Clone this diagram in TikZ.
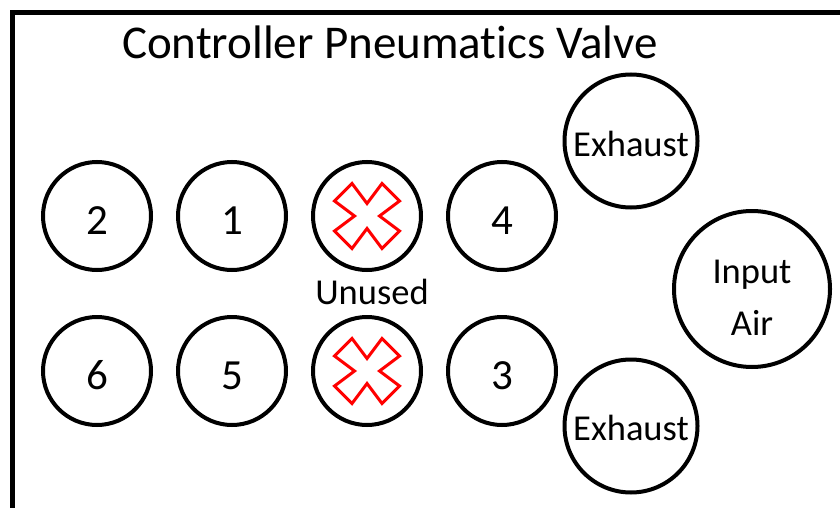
\documentclass[tikz,border=0pt]{standalone}
\usepackage{fontspec}
\setmainfont{Carlito}[Ligatures=NoCommon]
\tikzset{
  port/.style={circle, draw=black, line width=4pt, fill=white, inner sep=0pt, minimum size=#1},
  lbl/.style={anchor=base, inner sep=0pt, font=\fontsize{36.5}{40}\selectfont},
  digit/.style={anchor=base, inner sep=0pt, font=\fontsize{43}{48}\selectfont},
  frameline/.style={line width=5pt, line cap=rect},
  crossmark/.pic={
    \draw[red, line width=3pt, line join=miter]
      (-32.5,-15) -- (-15,-32.5) -- (0,-12.5) -- (15,-32.5) -- (32.5,-15) -- (12.5,0)
      -- (32.5,15) -- (15,32.5) -- (0,12.5) -- (-15,32.5) -- (-32.5,15) -- (-12.5,0) -- cycle;
  }
}
\begin{document}
\begin{tikzpicture}[x=1pt, y=-1pt]
\useasboundingbox (0,0) rectangle (840,508);
% housing outline
\coordinate (fbl) at (12,520);
\coordinate (ftl) at (12,12.5);
\coordinate (ftr) at (850,12.5);
\draw[frameline] (fbl) -- (ftl) -- (ftr);
% title
\node[anchor=base, inner sep=0pt, font=\fontsize{47}{52}\selectfont] (title) at (390,59) {Controller Pneumatics Valve};
% port grid
\node[port=108pt] (p2) at (97,216) {};
\node[port=108pt] (p1) at (232,216) {};
\node[port=108pt] (u1) at (367,216) {};
\node[port=108pt] (p4) at (502,216) {};
\node[port=108pt] (p6) at (97,371) {};
\node[port=108pt] (p5) at (232,371) {};
\node[port=108pt] (u2) at (367,371) {};
\node[port=108pt] (p3) at (502,371) {};
\node[digit] (t2) at ([yshift=-18pt]p2.center) {2};
\node[digit] (t1) at ([yshift=-18pt]p1.center) {1};
\node[digit] (t4) at ([yshift=-18pt]p4.center) {4};
\node[digit] (t6) at ([yshift=-18pt]p6.center) {6};
\node[digit] (t5) at ([yshift=-18pt]p5.center) {5};
\node[digit] (t3) at ([yshift=-18pt]p3.center) {3};
\pic at (u1.center) {crossmark};
\pic at (u2.center) {crossmark};
\node[lbl] (unused) at (372,304) {Unused};
% exhaust and supply ports
\node[port=133pt] (ex1) at (631,141) {};
\node[port=133pt] (ex2) at (631,426) {};
\node[port=156pt] (air) at (752,289) {};
\node[lbl] (tex1) at ([yshift=-16pt]ex1.center) {Exhaust};
\node[lbl] (tex2) at ([yshift=-14pt]ex2.center) {Exhaust};
\node[lbl] (tin) at (752,283) {Input};
\node[lbl] (tair) at (752,335) {Air};
\end{tikzpicture}
\end{document}
